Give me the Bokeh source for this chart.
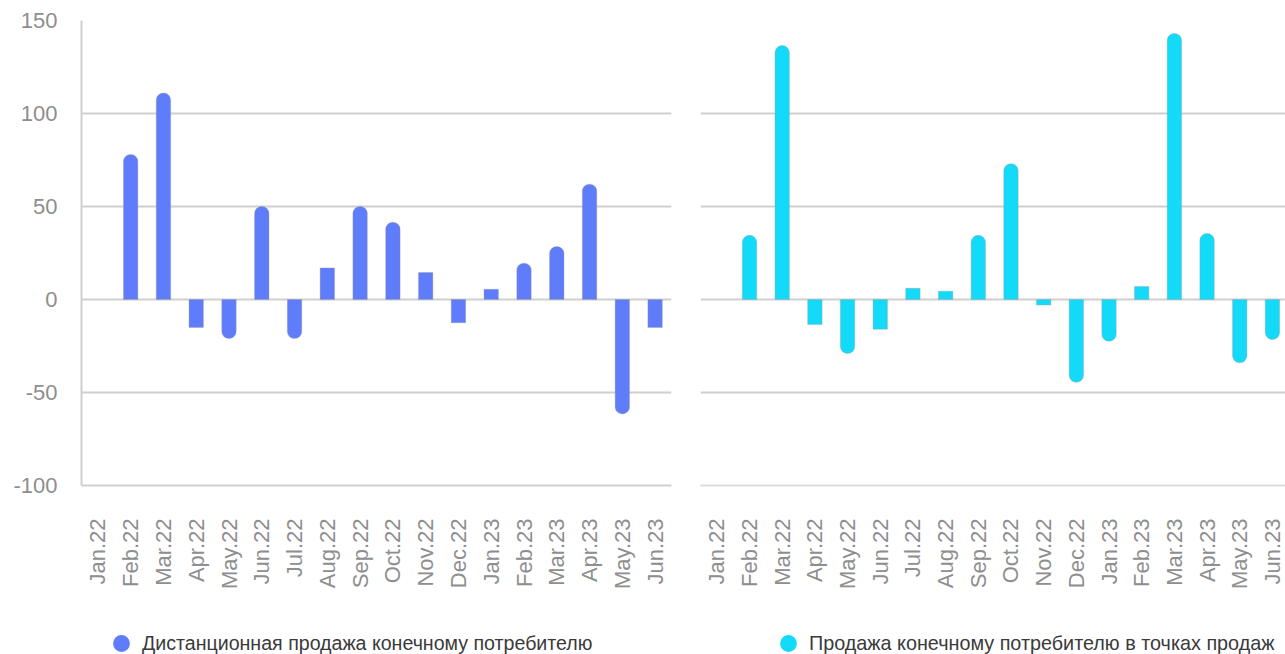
import math
import numpy as np
from bokeh.plotting import figure
from bokeh.layouts import row, column
from bokeh.models import Range1d, FixedTicker, ColumnDataSource, Legend, LegendItem, Grid
from bokeh.embed import file_html
from bokeh.resources import INLINE

months = ["Jan.22", "Feb.22", "Mar.22", "Apr.22", "May.22", "Jun.22", "Jul.22", "Aug.22", "Sep.22",
          "Oct.22", "Nov.22", "Dec.22", "Jan.23", "Feb.23", "Mar.23", "Apr.23", "May.23", "Jun.23"]
remote_sales = [0, 78, 111, -15, -21, 50, -21, 17, 50, 41.5, 14.5, -12.5, 5.5, 19.5, 28.5, 62, -61.5, -15]
store_sales = [0, 34.5, 136.5, -13.5, -29, -16, 6, 4.5, 34.5, 73, -3, -44.5, -22.5, 7, 143, 35.5, -34, -21.5]
y_ticks = [-100, -50, 0, 50, 100, 150]
y_tick_labels = ["-100", "-50", "0", "50", "100", "150"]
series_names = ["Дистанционная продажа конечному потребителю",
                "Продажа конечному потребителю в точках продаж"]
colors = ["#5f7dfa", "#14dafa"]

FONT = "Liberation Sans"
LABEL_COLOR = "#8e8e8e"
GRID_COLOR = "#cfcfcf"
CHART_H = 610
LEGEND_H = 44


def split(values, thr=18):
    groups = {"pos": ([], []), "neg": ([], []), "sq": ([], [])}
    for i, v in enumerate(values):
        if v == 0:
            continue
        key = "pos" if v >= thr else ("neg" if v <= -thr else "sq")
        groups[key][0].append(i)
        groups[key][1].append(v)
    return groups


def make_chart(values, color, show_y, x_end, width, b_left, b_right):
    p = figure(width=width, height=CHART_H, x_range=Range1d(-0.5, x_end), y_range=Range1d(-100, 150),
               output_backend="svg", toolbar_location=None,
               y_axis_location="left" if show_y else None,
               min_border_left=b_left, min_border_right=b_right, min_border_top=20,
               min_border_bottom=CHART_H - 20 - 465)
    p.outline_line_color = None

    xa = p.xaxis[0]
    xa.ticker = FixedTicker(ticks=list(range(len(months))))
    xa.major_label_overrides = {i: m for i, m in enumerate(months)}
    xa.major_label_orientation = math.pi / 2
    xa.major_label_standoff = 27
    xa.major_label_text_font = FONT
    xa.major_label_text_font_size = "22px"
    xa.major_label_text_color = LABEL_COLOR
    xa.major_tick_line_color = None
    xa.minor_tick_line_color = None
    xa.axis_line_color = GRID_COLOR if show_y else "#dcdcdc"
    xa.axis_line_width = 2

    if show_y:
        ya = p.yaxis[0]
        ya.ticker = FixedTicker(ticks=y_ticks)
        ya.major_label_overrides = {t: s for t, s in zip(y_ticks, y_tick_labels)}
        ya.major_label_standoff = 18
        ya.major_label_text_font = FONT
        ya.major_label_text_font_size = "22px"
        ya.major_label_text_color = LABEL_COLOR
        ya.major_tick_line_color = None
        ya.minor_tick_line_color = None
        ya.axis_line_color = GRID_COLOR
        ya.axis_line_width = 2

    for g in p.grid:
        g.visible = False
    p.add_layout(Grid(dimension=1, ticker=FixedTicker(ticks=y_ticks), grid_line_color=GRID_COLOR,
                      grid_line_width=2))

    groups = split(values)
    radii = {"pos": (7, 7, 0, 0), "neg": (0, 0, 7, 7), "sq": 0}
    for key, (xs, vs) in groups.items():
        if not xs:
            continue
        src = ColumnDataSource(dict(x=xs, top=[max(v, 0) for v in vs], bottom=[min(v, 0) for v in vs]))
        p.vbar(x="x", top="top", bottom="bottom", width=0.44, source=src,
               fill_color=color, line_color="#9a9a9a", line_alpha=0.35, line_width=1,
               border_radius=radii[key])
    return p


def make_legend(label, color, width, legend_x, font_size):
    p = figure(width=width, height=LEGEND_H, output_backend="svg", toolbar_location=None,
               x_axis_location=None, y_axis_location=None, min_border=0,
               x_range=Range1d(0, 1), y_range=Range1d(0, 1))
    p.outline_line_color = None
    for g in p.grid:
        g.visible = False
    # legend swatch only: a renderer whose single point is NaN (never drawn in the plot)
    src = ColumnDataSource(dict(x=np.array([np.nan]), y=np.array([np.nan])))
    dummy = p.scatter(x="x", y="y", source=src, marker="circle", size=17,
                      fill_color=color, line_color=None)
    legend = Legend(items=[LegendItem(label=label, renderers=[dummy])],
                    location=(legend_x, -10), orientation="horizontal",
                    glyph_width=42, glyph_height=42, label_standoff=0, padding=0, margin=0,
                    spacing=0, border_line_color=None, background_fill_alpha=0,
                    label_text_font=FONT, label_text_font_size=font_size, label_text_color="#3a3a3a")
    p.add_layout(legend, "center")
    return p


left = make_chart(remote_sales, colors[0], True, 17.5, 690, 81, 19)
right = make_chart(store_sales, colors[1], False, 17.4, 595, 10, 0)
left_leg = make_legend(series_names[0], colors[0], 690, 100, "19.6px")
right_leg = make_legend(series_names[1], colors[1], 595, 77, "19.8px")

layout = column(row(left, right), row(left_leg, right_leg))
open("out.html", "w").write(file_html(layout, INLINE))
